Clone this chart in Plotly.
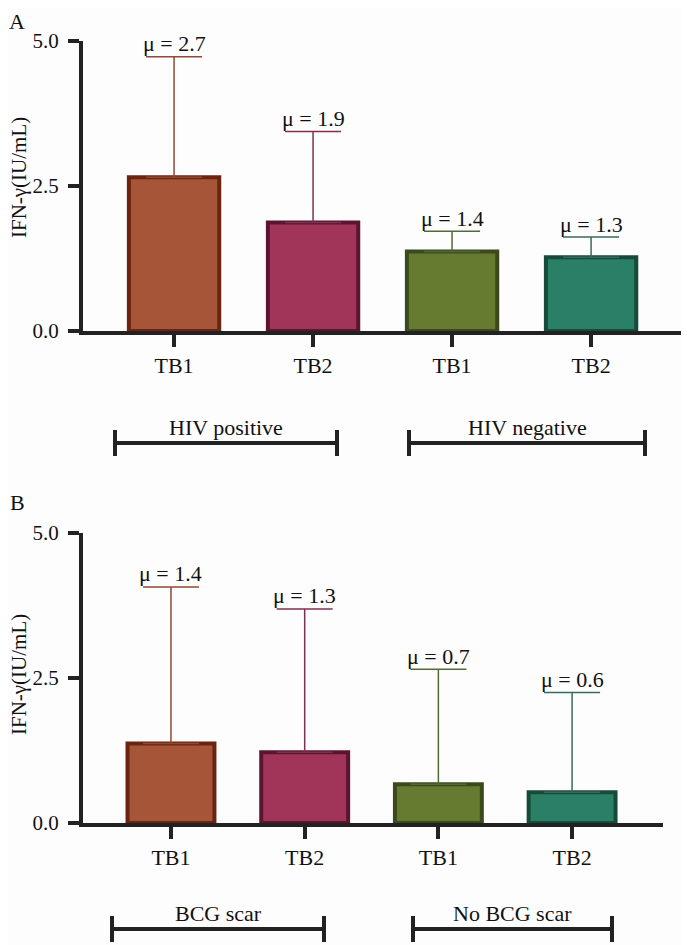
import plotly.graph_objects as go

# Values
cats = ['TB1', 'TB2', 'TB1', 'TB2']

mean_a = [2.65, 1.87, 1.37, 1.27]
upper_a = [4.73, 3.44, 1.72, 1.62]
mu_a = ['2.7', '1.9', '1.4', '1.3']
groups_a = ['HIV positive', 'HIV negative']

mean_b = [1.37, 1.22, 0.67, 0.53]
upper_b = [4.07, 3.69, 2.65, 2.25]
mu_b = ['1.4', '1.3', '0.7', '0.6']
groups_b = ['BCG scar', 'No BCG scar']

fills = ['#A65538', '#A03559', '#667B2F', '#2A8066']
edges = ['#6B2410', '#5C1530', '#3A4A1C', '#174A38']
errs = ['#8E4A35', '#7E3050', '#55683A', '#3A6A5A']

# the page puts the figure 8px in from the window corner
PAGE_W, PAGE_H, OFF = 689, 945, 8
W, H = PAGE_W - OFF, PAGE_H - OFF
FONT = 'Liberation Serif, Times New Roman, DejaVu Serif, serif'
INK = '#222222'
TXT = '#111111'

fig = go.Figure()


def add_panel(means, uppers, labels, xa, ya):
    for i, (m, u) in enumerate(zip(means, uppers)):
        fig.add_trace(go.Bar(
            x=[i], y=[m], width=0.65,
            marker=dict(color=fills[i], line=dict(color=edges[i], width=4)),
            error_y=dict(type='data', array=[u - m], arrayminus=[0], symmetric=False,
                         color=errs[i], thickness=1.5, width=28),
            xaxis=xa, yaxis=ya, showlegend=False, hoverinfo='skip'
        ))
        fig.add_annotation(x=i, y=u, xref=xa, yref=ya, text='μ = ' + labels[i],
                           xanchor='center', yanchor='middle',
                           showarrow=False, yshift=13, font=dict(size=22, family=FONT, color=TXT))


add_panel(mean_a, upper_a, mu_a, 'x', 'y')
add_panel(mean_b, upper_b, mu_b, 'x2', 'y2')


# convert positions measured on the window into paper fractions
def px_x(v):
    return (v - OFF) / W


def px_y(v):
    return (PAGE_H - v) / H


axis_common = dict(showline=True, linewidth=4, linecolor=INK, ticks='outside',
                   tickwidth=4, tickcolor=INK, showgrid=False, zeroline=False)
xfont = dict(size=22, family=FONT, color=TXT)
yfont = dict(size=21, family=FONT, color=TXT)

fig.update_layout(
    width=W, height=H, margin=dict(l=0, r=0, t=0, b=0, autoexpand=False), autosize=False,
    paper_bgcolor='#fdfdfd', plot_bgcolor='#fdfdfd', barmode='overlay',
    font=dict(family=FONT),
    xaxis=dict(domain=[px_x(83), px_x(687)], range=[-0.655, 3.69], anchor='y',
               tickvals=list(range(len(cats))), ticktext=cats, ticklen=12,
               tickfont=xfont, **axis_common),
    yaxis=dict(domain=[px_y(331), px_y(41)], range=[0, 5], anchor='x',
               tickvals=[0, 2.5, 5], tickformat='.1f', ticklen=11, ticklabelstandoff=5,
               tickfont=yfont, **axis_common),
    xaxis2=dict(domain=[px_x(83), px_x(663)], range=[-0.658, 3.68], anchor='y2',
                tickvals=list(range(len(cats))), ticktext=cats, ticklen=12,
                tickfont=xfont, **axis_common),
    yaxis2=dict(domain=[px_y(823), px_y(533)], range=[0, 5], anchor='x2',
                tickvals=[0, 2.5, 5], tickformat='.1f', ticklen=11, ticklabelstandoff=5,
                tickfont=yfont, **axis_common),
)

# panel letters and y titles
for letter, ly, ty in [('A', 22, 178), ('B', 503, 675)]:
    fig.add_annotation(x=px_x(17), y=px_y(ly), xref='paper', yref='paper', text=letter,
                       xanchor='center', yanchor='middle',
                       showarrow=False, font=dict(size=22, family=FONT, color=TXT))
    fig.add_annotation(x=px_x(19), y=px_y(ty), xref='paper', yref='paper', text='IFN-γ(IU/mL)',
                       xanchor='center', yanchor='middle',
                       textangle=-90, showarrow=False, font=dict(size=21, family=FONT, color=TXT))

# group brackets (pixel positions)
brackets = [
    (groups_a[0], 115, 337, 443, 427),
    (groups_a[1], 409, 645, 443, 427),
    (groups_b[0], 112, 324, 929, 913),
    (groups_b[1], 413, 612, 929, 913),
]
for text, x0, x1, yl, yt in brackets:
    line = dict(color=INK, width=4)
    fig.add_shape(type='line', xref='paper', yref='paper', x0=px_x(x0), x1=px_x(x1),
                  y0=px_y(yl), y1=px_y(yl), line=line)
    for xc in (x0, x1):
        fig.add_shape(type='line', xref='paper', yref='paper', x0=px_x(xc), x1=px_x(xc),
                      y0=px_y(yl - 13), y1=px_y(yl + 13), line=line)
    fig.add_annotation(x=px_x((x0 + x1) / 2), y=px_y(yt), xref='paper', yref='paper', text=text,
                       xanchor='center', yanchor='middle',
                       showarrow=False, font=dict(size=22, family=FONT, color=TXT))

fig.write_html('out.html')
